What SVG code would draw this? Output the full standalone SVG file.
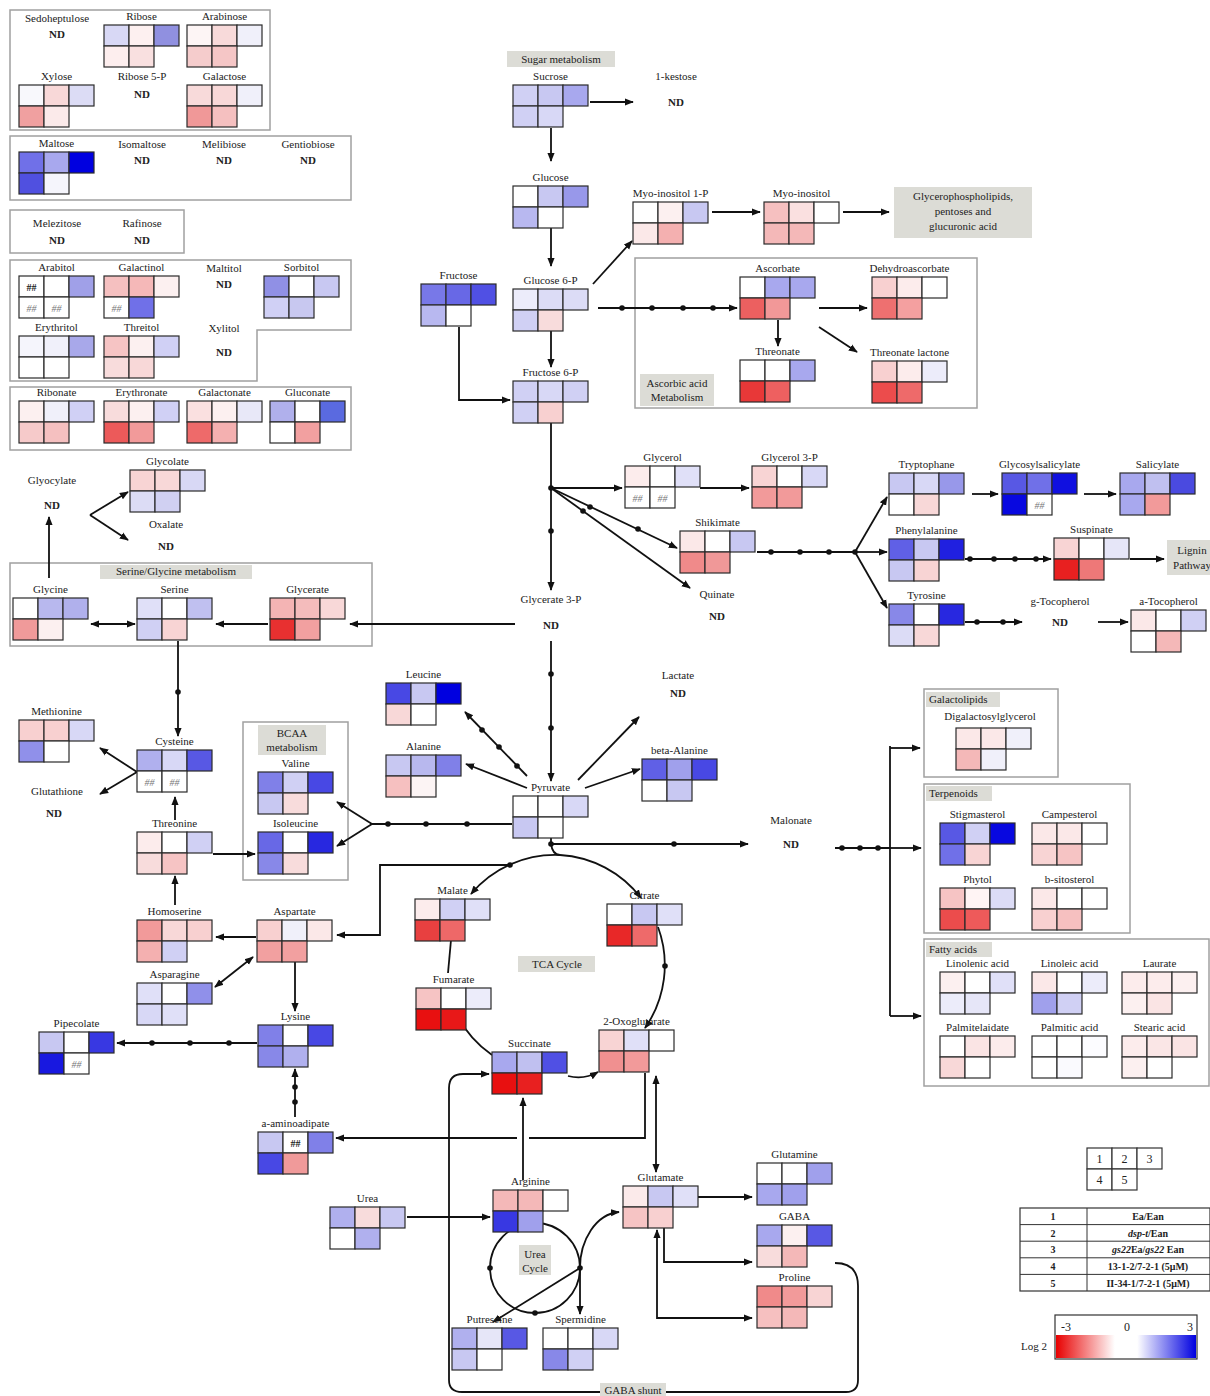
<svg xmlns="http://www.w3.org/2000/svg" width="1210" height="1396" viewBox="0 0 1210 1396">
<defs>
<marker id="a" viewBox="0 0 10 10" refX="9" refY="5" markerWidth="9" markerHeight="9" markerUnits="userSpaceOnUse" orient="auto-start-reverse"><path d="M0,1L10,5L0,9z" fill="#111"/></marker>
<linearGradient id="cb" x1="0" x2="1" y1="0" y2="0"><stop offset="0" stop-color="#e80000"/><stop offset="0.42" stop-color="#ffffff"/><stop offset="0.58" stop-color="#ffffff"/><stop offset="1" stop-color="#0000e0"/></linearGradient>
</defs>
<style>
text{font-family:'Liberation Serif',serif;font-size:11px;fill:#222;text-anchor:middle}
.n rect{width:25px;height:21px;stroke:#2a2a2a;stroke-width:1.2}
.nd{font-weight:bold}
.h{font-style:italic;fill:#777;font-size:10px}
.hb{font-weight:bold;font-size:10px}
.box{fill:none;stroke:#a0a0a0;stroke-width:1.5}
.lab{fill:#dcdcd6}
.c path{fill:none;stroke:#111;stroke-width:1.8}
.ar{marker-end:url(#a)}
.ab{marker-start:url(#a);marker-end:url(#a)}
.c circle{fill:#111}
.lt{text-anchor:start}
.lg rect{fill:#fff;stroke:#333;stroke-width:1.2}
.lg text{font-weight:bold;font-size:10px}
.lg .num{font-weight:normal;font-size:12px}
</style>
<rect width="1210" height="1396" fill="#fff"/>

<g id="boxes">
<rect class="box" x="10" y="10" width="260" height="120"/>
<rect class="box" x="10" y="136" width="341" height="64"/>
<rect class="box" x="10" y="210" width="174" height="43"/>
<path class="box" d="M10,260H351V330H257V381H10Z"/>
<rect class="box" x="10" y="387" width="341" height="63"/>
<rect class="box" x="635" y="258" width="342" height="150"/>
<rect class="box" x="10" y="563" width="362" height="83"/>
<rect class="box" x="243" y="722" width="105" height="158"/>
<rect class="box" x="924" y="689" width="134" height="88"/>
<rect class="box" x="924" y="784" width="206" height="149"/>
<rect class="box" x="924" y="939" width="285" height="147"/>
</g>

<g id="labels">
<rect class="lab" x="507" y="51" width="108" height="16"/><text x="561" y="63">Sugar metabolism</text>
<rect class="lab" x="640" y="374" width="74" height="32"/><text x="677" y="387">Ascorbic acid</text><text x="677" y="401">Metabolism</text>
<rect class="lab" x="894" y="187" width="138" height="51"/><text x="963" y="200">Glycerophospholipids,</text><text x="963" y="215">pentoses and</text><text x="963" y="230">glucuronic acid</text>
<rect class="lab" x="100" y="565" width="152" height="14"/><text x="176" y="575">Serine/Glycine metabolism</text>
<rect class="lab" x="258" y="725" width="68" height="30"/><text x="292" y="737">BCAA</text><text x="292" y="751">metabolism</text>
<rect class="lab" x="518" y="956" width="77" height="16"/><text x="557" y="968">TCA Cycle</text>
<rect class="lab" x="519" y="1245" width="32" height="30"/><text x="535" y="1258">Urea</text><text x="535" y="1272">Cycle</text>
<rect class="lab" x="1167" y="540" width="43" height="35"/><text x="1192" y="554">Lignin</text><text x="1192" y="569">Pathway</text>
<rect class="lab" x="926" y="692" width="74" height="15"/><text class="lt" x="929" y="703">Galactolipids</text>
<rect class="lab" x="926" y="786" width="66" height="15"/><text class="lt" x="929" y="797">Terpenoids</text>
<rect class="lab" x="926" y="942" width="66" height="15"/><text class="lt" x="929" y="953">Fatty acids</text>
</g>

<g id="connectors" class="c">
<path class="ar" d="M590,102H633"/>
<path class="ar" d="M551,128V161"/>
<path class="ar" d="M551,228V266"/>
<path class="ar" d="M593,284L632,241"/>
<path class="ar" d="M712,212H760"/>
<path class="ar" d="M843,212H889"/>
<path class="ar" d="M459,327V400H510"/>
<path class="ar" d="M551,331V367"/>
<path class="ar" d="M598,308H737"/>
<circle cx="622" cy="308" r="2.8"/><circle cx="652" cy="308" r="2.8"/><circle cx="683" cy="308" r="2.8"/><circle cx="713" cy="308" r="2.8"/>
<path class="ar" d="M778,320V346"/>
<path class="ar" d="M819,308H867"/>
<path class="ar" d="M819,327L857,352"/>
<path class="ar" d="M551,423V590"/>
<circle cx="551" cy="488" r="2.8"/><circle cx="551" cy="531" r="2.8"/>
<path class="ar" d="M551,488H622"/>
<path class="ar" d="M700,488H749"/>
<path class="ar" d="M551,488L677,548"/>
<circle cx="590" cy="507" r="2.8"/><circle cx="638" cy="529" r="2.8"/>
<path class="ar" d="M551,488L690,588"/>
<circle cx="583" cy="511" r="2.8"/>
<path d="M757,552H855"/>
<circle cx="771" cy="552" r="2.8"/><circle cx="800" cy="552" r="2.8"/><circle cx="829" cy="552" r="2.8"/><circle cx="855" cy="552" r="2.8"/>
<path class="ar" d="M855,552L887,497"/>
<path class="ar" d="M855,552H887"/>
<path class="ar" d="M855,552L887,608"/>
<path class="ar" d="M972,494H998"/>
<path class="ar" d="M1084,494H1116"/>
<path class="ar" d="M965,559H1051"/>
<circle cx="970" cy="559" r="2.8"/><circle cx="994" cy="559" r="2.8"/><circle cx="1015" cy="559" r="2.8"/><circle cx="1036" cy="559" r="2.8"/>
<path class="ar" d="M1130,559H1164"/>
<path class="ar" d="M965,622H1022"/>
<circle cx="977" cy="622" r="2.8"/><circle cx="1003" cy="622" r="2.8"/>
<path class="ar" d="M1098,622H1128"/>
<path class="ar" d="M515,624H350"/>
<path class="ar" d="M268,624H216"/>
<path class="ab" d="M135,624H91"/>
<path class="ar" d="M49,578V517"/>
<path class="ar" d="M90,515L128,492"/>
<path class="ar" d="M90,515L128,540"/>
<path class="ar" d="M178,641V736"/>
<circle cx="178" cy="692" r="2.8"/>
<path class="ar" d="M551,641V781"/>
<circle cx="551" cy="674" r="2.8"/><circle cx="551" cy="728" r="2.8"/>
<path class="ar" d="M527,776L465,712"/>
<circle cx="517" cy="766" r="2.8"/><circle cx="499" cy="747" r="2.8"/><circle cx="482" cy="730" r="2.8"/>
<path class="ar" d="M527,788L466,764"/>
<path class="ar" d="M578,780L639,717"/>
<path class="ar" d="M585,788L640,769"/>
<path d="M512,824H372"/>
<circle cx="388" cy="824" r="2.8"/><circle cx="426" cy="824" r="2.8"/><circle cx="467" cy="824" r="2.8"/>
<path class="ar" d="M372,824L337,802"/>
<path class="ar" d="M372,824L337,846"/>
<path class="ar" d="M551,838V844H748"/>
<circle cx="551" cy="844" r="2.8"/><circle cx="674" cy="844" r="2.8"/>
<path d="M551,844C552,851 555,855 560,855"/>
<path class="ar" d="M560,855A110,110 0 0 0 471,894"/>
<circle cx="510" cy="865" r="2.8"/>
<path class="ar" d="M510,865H380V935H337"/>
<path class="ar" d="M560,855A110,110 0 0 1 641,898"/>
<path class="ar" d="M658,927A110,110 0 0 1 645,1028"/>
<circle cx="665" cy="966" r="2.8"/>
<path d="M451,940L448,973"/>
<path d="M455,1011A110,110 0 0 0 492,1055"/>
<path class="ar" d="M568,1076Q584,1080 598,1072"/>
<path class="ar" d="M256,937H216"/>
<path class="ar" d="M175,905V876"/>
<path class="ar" d="M175,820V797"/>
<path class="ar" d="M213,854H255"/>
<path class="ar" d="M137,772L100,748"/>
<path class="ar" d="M137,772L100,794"/>
<path class="ab" d="M215,987L253,957"/>
<path class="ar" d="M295,962V1011"/>
<path class="ar" d="M257,1043H117"/>
<circle cx="152" cy="1043" r="2.8"/><circle cx="190" cy="1043" r="2.8"/><circle cx="229" cy="1043" r="2.8"/>
<path class="ar" d="M295,1117V1069"/>
<circle cx="295" cy="1087" r="2.8"/><circle cx="295" cy="1102" r="2.8"/>
<path d="M645,1073V1138H529"/>
<path class="ar" d="M517,1138H336"/>
<path class="ar" d="M523,1180V1098"/>
<path class="ab" d="M656,1076V1172"/>
<path class="ar" d="M407,1217H490"/>
<path class="ar" d="M698,1197H752"/>
<path class="ar" d="M664,1228V1262H752"/>
<path class="ab" d="M657,1230V1318H752"/>
<path class="ar" d="M835,1263Q858,1263 858,1286V1380Q858,1392 846,1392H462Q449,1392 449,1380V1088Q449,1074 463,1074H489"/>
<path d="M490,1268a45,45 0 1 0 90,0a45,45 0 1 0 -90,0"/>
<circle cx="490" cy="1268" r="2.8"/><circle cx="535" cy="1313" r="2.8"/><circle cx="580" cy="1268" r="2.8"/>
<path class="ar" d="M580,1268C580,1240 596,1214 619,1212"/>
<path class="ar" d="M580,1268V1314"/>
<path class="ar" d="M580,1268L493,1322"/>
<path d="M835,848H890"/>
<circle cx="842" cy="848" r="2.8"/><circle cx="860" cy="848" r="2.8"/><circle cx="878" cy="848" r="2.8"/>
<path d="M890,746V1016"/>
<path class="ar" d="M890,748H920"/>
<path class="ar" d="M890,848H921"/>
<path class="ar" d="M890,1016H921"/>
</g>

<g id="gaba-shunt-label">
<rect class="lab" x="600" y="1383" width="66" height="13"/><text x="633" y="1394">GABA shunt</text>
</g>

<g id="nd-nodes">
<g id="n-sedoheptulose"><text x="57" y="22">Sedoheptulose</text><text class="nd" x="57" y="38">ND</text></g>
<g id="n-ribose5p"><text x="142" y="80">Ribose 5-P</text><text class="nd" x="142" y="98">ND</text></g>
<g id="n-isomaltose"><text x="142" y="148">Isomaltose</text><text class="nd" x="142" y="164">ND</text></g>
<g id="n-melibiose"><text x="224" y="148">Melibiose</text><text class="nd" x="224" y="164">ND</text></g>
<g id="n-gentiobiose"><text x="308" y="148">Gentiobiose</text><text class="nd" x="308" y="164">ND</text></g>
<g id="n-melezitose"><text x="57" y="227">Melezitose</text><text class="nd" x="57" y="244">ND</text></g>
<g id="n-rafinose"><text x="142" y="227">Rafinose</text><text class="nd" x="142" y="244">ND</text></g>
<g id="n-maltitol"><text x="224" y="272">Maltitol</text><text class="nd" x="224" y="288">ND</text></g>
<g id="n-xylitol"><text x="224" y="332">Xylitol</text><text class="nd" x="224" y="356">ND</text></g>
<g id="n-kestose"><text x="676" y="80">1-kestose</text><text class="nd" x="676" y="106">ND</text></g>
<g id="n-glycerate3p"><text x="551" y="603">Glycerate 3-P</text><text class="nd" x="551" y="629">ND</text></g>
<g id="n-quinate"><text x="717" y="598">Quinate</text><text class="nd" x="717" y="620">ND</text></g>
<g id="n-gtocopherol"><text x="1060" y="605">g-Tocopherol</text><text class="nd" x="1060" y="626">ND</text></g>
<g id="n-lactate"><text x="678" y="679">Lactate</text><text class="nd" x="678" y="697">ND</text></g>
<g id="n-malonate"><text x="791" y="824">Malonate</text><text class="nd" x="791" y="848">ND</text></g>
<g id="n-glyocylate"><text x="52" y="484">Glyocylate</text><text class="nd" x="52" y="509">ND</text></g>
<g id="n-oxalate"><text x="166" y="528">Oxalate</text><text class="nd" x="166" y="550">ND</text></g>
<g id="n-glutathione"><text x="57" y="795">Glutathione</text><text class="nd" x="54" y="817">ND</text></g>
</g>

<g id="nodes">
<g id="n-ribose" class="n" transform="translate(104,25)"><text x="37.5" y="-5">Ribose</text><rect x="0" y="0" fill="#d8d8f5"/><rect x="25" y="0" fill="#fdf0f0"/><rect x="50" y="0" fill="#9090e0"/><rect x="0" y="21" fill="#fdeeee"/><rect x="25" y="21" fill="#f9e0e0"/></g>
<g id="n-arabinose" class="n" transform="translate(187,25)"><text x="37.5" y="-5">Arabinose</text><rect x="0" y="0" fill="#fdf5f5"/><rect x="25" y="0" fill="#f8dada"/><rect x="50" y="0" fill="#f0f0fa"/><rect x="0" y="21" fill="#f5cccc"/><rect x="25" y="21" fill="#f5c6c6"/></g>
<g id="n-xylose" class="n" transform="translate(19,85)"><text x="37.5" y="-5">Xylose</text><rect x="0" y="0" fill="#f8f8fc"/><rect x="25" y="0" fill="#f8d8d8"/><rect x="50" y="0" fill="#dcdcf5"/><rect x="0" y="21" fill="#f0a0a0"/><rect x="25" y="21" fill="#fbeaea"/></g>
<g id="n-galactose" class="n" transform="translate(187,85)"><text x="37.5" y="-5">Galactose</text><rect x="0" y="0" fill="#f8dada"/><rect x="25" y="0" fill="#f8d8d8"/><rect x="50" y="0" fill="#f0f0fa"/><rect x="0" y="21" fill="#f09898"/><rect x="25" y="21" fill="#f5c0c0"/></g>
<g id="n-maltose" class="n" transform="translate(19,152)"><text x="37.5" y="-5">Maltose</text><rect x="0" y="0" fill="#7070e8"/><rect x="25" y="0" fill="#a8a8ee"/><rect x="50" y="0" fill="#0000e0"/><rect x="0" y="21" fill="#5050e0"/><rect x="25" y="21" fill="#f5f5fc"/></g>
<g id="n-arabitol" class="n" transform="translate(19,276)"><text x="37.5" y="-5">Arabitol</text><rect x="0" y="0" fill="#ffffff"/><rect x="25" y="0" fill="#ffffff"/><rect x="50" y="0" fill="#a0a0e8"/><rect x="0" y="21" fill="#ffffff"/><rect x="25" y="21" fill="#ffffff"/><text class="hb" x="12.5" y="15">##</text><text class="h" x="12.5" y="36">##</text><text class="h" x="37.5" y="36">##</text></g>
<g id="n-galactinol" class="n" transform="translate(104,276)"><text x="37.5" y="-5">Galactinol</text><rect x="0" y="0" fill="#f5c0c0"/><rect x="25" y="0" fill="#f5b8b8"/><rect x="50" y="0" fill="#fcf0f0"/><rect x="0" y="21" fill="#ffffff"/><rect x="25" y="21" fill="#7070e8"/><text class="h" x="12.5" y="36">##</text></g>
<g id="n-sorbitol" class="n" transform="translate(264,276)"><text x="37.5" y="-5">Sorbitol</text><rect x="0" y="0" fill="#9090e5"/><rect x="25" y="0" fill="#ffffff"/><rect x="50" y="0" fill="#c8c8f2"/><rect x="0" y="21" fill="#d0d0f5"/><rect x="25" y="21" fill="#c8c8f0"/></g>
<g id="n-erythritol" class="n" transform="translate(19,336)"><text x="37.5" y="-5">Erythritol</text><rect x="0" y="0" fill="#f5f5fc"/><rect x="25" y="0" fill="#f0f0fa"/><rect x="50" y="0" fill="#a8a8ea"/><rect x="0" y="21" fill="#ffffff"/><rect x="25" y="21" fill="#ffffff"/></g>
<g id="n-threitol" class="n" transform="translate(104,336)"><text x="37.5" y="-5">Threitol</text><rect x="0" y="0" fill="#f6c4c4"/><rect x="25" y="0" fill="#fcf0f0"/><rect x="50" y="0" fill="#d0d0f5"/><rect x="0" y="21" fill="#f8dcdc"/><rect x="25" y="21" fill="#f8d8d8"/></g>
<g id="n-ribonate" class="n" transform="translate(19,401)"><text x="37.5" y="-5">Ribonate</text><rect x="0" y="0" fill="#fcf0f0"/><rect x="25" y="0" fill="#f0f0fa"/><rect x="50" y="0" fill="#d0d0f5"/><rect x="0" y="21" fill="#f6caca"/><rect x="25" y="21" fill="#f5c0c0"/></g>
<g id="n-erythronate" class="n" transform="translate(104,401)"><text x="37.5" y="-5">Erythronate</text><rect x="0" y="0" fill="#f8dcdc"/><rect x="25" y="0" fill="#fcf0f0"/><rect x="50" y="0" fill="#d0d0f5"/><rect x="0" y="21" fill="#ec5a5a"/><rect x="25" y="21" fill="#f29a9a"/></g>
<g id="n-galactonate" class="n" transform="translate(187,401)"><text x="37.5" y="-5">Galactonate</text><rect x="0" y="0" fill="#fae0e0"/><rect x="25" y="0" fill="#fcf0f0"/><rect x="50" y="0" fill="#e8e8f8"/><rect x="0" y="21" fill="#ee6a6a"/><rect x="25" y="21" fill="#f4b0b0"/></g>
<g id="n-gluconate" class="n" transform="translate(270,401)"><text x="37.5" y="-5">Gluconate</text><rect x="0" y="0" fill="#b0b0ec"/><rect x="25" y="0" fill="#ffffff"/><rect x="50" y="0" fill="#5a6ae0"/><rect x="0" y="21" fill="#ffffff"/><rect x="25" y="21" fill="#f2a0a0"/></g>

<g id="n-sucrose" class="n" transform="translate(513,85)"><text x="37.5" y="-5">Sucrose</text><rect x="0" y="0" fill="#d0d0f4"/><rect x="25" y="0" fill="#c8c8f2"/><rect x="50" y="0" fill="#a8a8ee"/><rect x="0" y="21" fill="#d0d0f4"/><rect x="25" y="21" fill="#d8d8f6"/></g>
<g id="n-glucose" class="n" transform="translate(513,186)"><text x="37.5" y="-5">Glucose</text><rect x="0" y="0" fill="#ffffff"/><rect x="25" y="0" fill="#c8c8f2"/><rect x="50" y="0" fill="#9898ea"/><rect x="0" y="21" fill="#b8b8f0"/><rect x="25" y="21" fill="#ffffff"/></g>
<g id="n-g6p" class="n" transform="translate(513,289)"><text x="37.5" y="-5">Glucose 6-P</text><rect x="0" y="0" fill="#ececfa"/><rect x="25" y="0" fill="#dcdcf6"/><rect x="50" y="0" fill="#dcdcf6"/><rect x="0" y="21" fill="#d0d0f4"/><rect x="25" y="21" fill="#f8dcdc"/></g>
<g id="n-fructose" class="n" transform="translate(421,284)"><text x="37.5" y="-5">Fructose</text><rect x="0" y="0" fill="#7878e8"/><rect x="25" y="0" fill="#6868e6"/><rect x="50" y="0" fill="#5050e4"/><rect x="0" y="21" fill="#b8b8f0"/><rect x="25" y="21" fill="#ffffff"/></g>
<g id="n-f6p" class="n" transform="translate(513,381)"><text x="37.5" y="-5">Fructose 6-P</text><rect x="0" y="0" fill="#d0d0f4"/><rect x="25" y="0" fill="#d8d8f6"/><rect x="50" y="0" fill="#d0d0f4"/><rect x="0" y="21" fill="#d0d0f4"/><rect x="25" y="21" fill="#f8d0d0"/></g>
<g id="n-myo1p" class="n" transform="translate(633,202)"><text x="37.5" y="-5">Myo-inositol 1-P</text><rect x="0" y="0" fill="#ffffff"/><rect x="25" y="0" fill="#fcf0f0"/><rect x="50" y="0" fill="#c8c8f2"/><rect x="0" y="21" fill="#fbe8e8"/><rect x="25" y="21" fill="#f4b0b0"/></g>
<g id="n-myo" class="n" transform="translate(764,202)"><text x="37.5" y="-5">Myo-inositol</text><rect x="0" y="0" fill="#f6c0c0"/><rect x="25" y="0" fill="#fae0e0"/><rect x="50" y="0" fill="#ffffff"/><rect x="0" y="21" fill="#f4b8b8"/><rect x="25" y="21" fill="#f4b8b8"/></g>
<g id="n-ascorbate" class="n" transform="translate(740,277)"><text x="37.5" y="-5">Ascorbate</text><rect x="0" y="0" fill="#ffffff"/><rect x="25" y="0" fill="#a8a8ee"/><rect x="50" y="0" fill="#a8a8ee"/><rect x="0" y="21" fill="#ec6060"/><rect x="25" y="21" fill="#f29898"/></g>
<g id="n-threonate" class="n" transform="translate(740,360)"><text x="37.5" y="-5">Threonate</text><rect x="0" y="0" fill="#ffffff"/><rect x="25" y="0" fill="#ffffff"/><rect x="50" y="0" fill="#a8a8ee"/><rect x="0" y="21" fill="#e83838"/><rect x="25" y="21" fill="#ee6060"/></g>
<g id="n-dehydroascorbate" class="n" transform="translate(872,277)"><text x="37.5" y="-5">Dehydroascorbate</text><rect x="0" y="0" fill="#f8d0d0"/><rect x="25" y="0" fill="#fcecec"/><rect x="50" y="0" fill="#ffffff"/><rect x="0" y="21" fill="#ee7070"/><rect x="25" y="21" fill="#f4a0a0"/></g>
<g id="n-threonatelactone" class="n" transform="translate(872,361)"><text x="37.5" y="-5">Threonate lactone</text><rect x="0" y="0" fill="#f8d0d0"/><rect x="25" y="0" fill="#fcecec"/><rect x="50" y="0" fill="#ececfa"/><rect x="0" y="21" fill="#ec4c4c"/><rect x="25" y="21" fill="#ee6a6a"/></g>
<g id="n-glycerol" class="n" transform="translate(625,466)"><text x="37.5" y="-5">Glycerol</text><rect x="0" y="0" fill="#fcecec"/><rect x="25" y="0" fill="#ffffff"/><rect x="50" y="0" fill="#e0e0f8"/><rect x="0" y="21" fill="#ffffff"/><rect x="25" y="21" fill="#ffffff"/><text class="h" x="12.5" y="36">##</text><text class="h" x="37.5" y="36">##</text></g>
<g id="n-glycerol3p" class="n" transform="translate(752,466)"><text x="37.5" y="-5">Glycerol 3-P</text><rect x="0" y="0" fill="#f8d4d4"/><rect x="25" y="0" fill="#ffffff"/><rect x="50" y="0" fill="#d8d8f6"/><rect x="0" y="21" fill="#f29a9a"/><rect x="25" y="21" fill="#f29a9a"/></g>
<g id="n-shikimate" class="n" transform="translate(680,531)"><text x="37.5" y="-5">Shikimate</text><rect x="0" y="0" fill="#fbe8e8"/><rect x="25" y="0" fill="#ffffff"/><rect x="50" y="0" fill="#c8c8f2"/><rect x="0" y="21" fill="#f08a8a"/><rect x="25" y="21" fill="#f09898"/></g>
<g id="n-tryptophane" class="n" transform="translate(889,473)"><text x="37.5" y="-5">Tryptophane</text><rect x="0" y="0" fill="#c8c8f2"/><rect x="25" y="0" fill="#d8d8f6"/><rect x="50" y="0" fill="#9898ea"/><rect x="0" y="21" fill="#ffffff"/><rect x="25" y="21" fill="#f8d8d8"/></g>
<g id="n-glycosylsalicylate" class="n" transform="translate(1002,473)"><text x="37.5" y="-5">Glycosylsalicylate</text><rect x="0" y="0" fill="#5858e4"/><rect x="25" y="0" fill="#7070e8"/><rect x="50" y="0" fill="#1010e0"/><rect x="0" y="21" fill="#0808e0"/><rect x="25" y="21" fill="#ffffff"/><text class="h" x="37.5" y="36">##</text></g>
<g id="n-salicylate" class="n" transform="translate(1120,473)"><text x="37.5" y="-5">Salicylate</text><rect x="0" y="0" fill="#a8a8ee"/><rect x="25" y="0" fill="#c0c0f0"/><rect x="50" y="0" fill="#4a4ae0"/><rect x="0" y="21" fill="#a8a8ee"/><rect x="25" y="21" fill="#f29a9a"/></g>
<g id="n-phenylalanine" class="n" transform="translate(889,539)"><text x="37.5" y="-5">Phenylalanine</text><rect x="0" y="0" fill="#6060e6"/><rect x="25" y="0" fill="#c8c8f2"/><rect x="50" y="0" fill="#2020e0"/><rect x="0" y="21" fill="#c8c8f2"/><rect x="25" y="21" fill="#f8d4d4"/></g>
<g id="n-suspinate" class="n" transform="translate(1054,538)"><text x="37.5" y="-5">Suspinate</text><rect x="0" y="0" fill="#f8d4d4"/><rect x="25" y="0" fill="#ffffff"/><rect x="50" y="0" fill="#e6e6f8"/><rect x="0" y="21" fill="#e82020"/><rect x="25" y="21" fill="#ee7878"/></g>
<g id="n-tyrosine" class="n" transform="translate(889,604)"><text x="37.5" y="-5">Tyrosine</text><rect x="0" y="0" fill="#8888e8"/><rect x="25" y="0" fill="#ffffff"/><rect x="50" y="0" fill="#2828e0"/><rect x="0" y="21" fill="#dcdcf6"/><rect x="25" y="21" fill="#f8d8d8"/></g>
<g id="n-atocopherol" class="n" transform="translate(1131,610)"><text x="37.5" y="-5">a-Tocopherol</text><rect x="0" y="0" fill="#fbe8e8"/><rect x="25" y="0" fill="#ffffff"/><rect x="50" y="0" fill="#d0d0f4"/><rect x="0" y="21" fill="#ffffff"/><rect x="25" y="21" fill="#f4b8b8"/></g>

<g id="n-glycolate" class="n" transform="translate(130,470)"><text x="37.5" y="-5">Glycolate</text><rect x="0" y="0" fill="#f8d4d4"/><rect x="25" y="0" fill="#f8d8d8"/><rect x="50" y="0" fill="#d8d8f5"/><rect x="0" y="21" fill="#dcdcf5"/><rect x="25" y="21" fill="#d0d0f2"/></g>
<g id="n-glycine" class="n" transform="translate(13,598)"><text x="37.5" y="-5">Glycine</text><rect x="0" y="0" fill="#ffffff"/><rect x="25" y="0" fill="#b8b8ee"/><rect x="50" y="0" fill="#b0b0ec"/><rect x="0" y="21" fill="#f09a9a"/><rect x="25" y="21" fill="#fcf0f0"/></g>
<g id="n-serine" class="n" transform="translate(137,598)"><text x="37.5" y="-5">Serine</text><rect x="0" y="0" fill="#e0e0f8"/><rect x="25" y="0" fill="#ffffff"/><rect x="50" y="0" fill="#c0c0f0"/><rect x="0" y="21" fill="#d0d0f4"/><rect x="25" y="21" fill="#f8d4d4"/></g>
<g id="n-glycerate" class="n" transform="translate(270,598)"><text x="37.5" y="-5">Glycerate</text><rect x="0" y="0" fill="#f4b4b4"/><rect x="25" y="0" fill="#f4bcbc"/><rect x="50" y="0" fill="#f8d8d8"/><rect x="0" y="21" fill="#e83030"/><rect x="25" y="21" fill="#f2a0a0"/></g>
<g id="n-leucine" class="n" transform="translate(386,683)"><text x="37.5" y="-5">Leucine</text><rect x="0" y="0" fill="#4848e4"/><rect x="25" y="0" fill="#c8c8f2"/><rect x="50" y="0" fill="#0000e0"/><rect x="0" y="21" fill="#f8d8d8"/><rect x="25" y="21" fill="#ffffff"/></g>
<g id="n-alanine" class="n" transform="translate(386,755)"><text x="37.5" y="-5">Alanine</text><rect x="0" y="0" fill="#c8c8f2"/><rect x="25" y="0" fill="#b8b8ee"/><rect x="50" y="0" fill="#8080e8"/><rect x="0" y="21" fill="#f6c0c0"/><rect x="25" y="21" fill="#fcf4f4"/></g>
<g id="n-betaalanine" class="n" transform="translate(642,759)"><text x="37.5" y="-5">beta-Alanine</text><rect x="0" y="0" fill="#6060e6"/><rect x="25" y="0" fill="#a0a0ec"/><rect x="50" y="0" fill="#4848e4"/><rect x="0" y="21" fill="#ffffff"/><rect x="25" y="21" fill="#c8c8f2"/></g>
<g id="n-pyruvate" class="n" transform="translate(513,796)"><text x="37.5" y="-5">Pyruvate</text><rect x="0" y="0" fill="#ffffff"/><rect x="25" y="0" fill="#ffffff"/><rect x="50" y="0" fill="#d8d8f6"/><rect x="0" y="21" fill="#c8c8f2"/><rect x="25" y="21" fill="#ffffff"/></g>
<g id="n-methionine" class="n" transform="translate(19,720)"><text x="37.5" y="-5">Methionine</text><rect x="0" y="0" fill="#f8d0d0"/><rect x="25" y="0" fill="#f8d0d0"/><rect x="50" y="0" fill="#d8d8f6"/><rect x="0" y="21" fill="#9090ea"/><rect x="25" y="21" fill="#ffffff"/></g>
<g id="n-cysteine" class="n" transform="translate(137,750)"><text x="37.5" y="-5">Cysteine</text><rect x="0" y="0" fill="#b0b0ee"/><rect x="25" y="0" fill="#d8d8f6"/><rect x="50" y="0" fill="#5858e4"/><rect x="0" y="21" fill="#ffffff"/><rect x="25" y="21" fill="#ffffff"/><text class="h" x="12.5" y="36">##</text><text class="h" x="37.5" y="36">##</text></g>
<g id="n-threonine" class="n" transform="translate(137,832)"><text x="37.5" y="-5">Threonine</text><rect x="0" y="0" fill="#fcecec"/><rect x="25" y="0" fill="#ffffff"/><rect x="50" y="0" fill="#d0d0f4"/><rect x="0" y="21" fill="#f8dcdc"/><rect x="25" y="21" fill="#f6c4c4"/></g>
<g id="n-valine" class="n" transform="translate(258,772)"><text x="37.5" y="-5">Valine</text><rect x="0" y="0" fill="#8080e8"/><rect x="25" y="0" fill="#d0d0f4"/><rect x="50" y="0" fill="#4848e4"/><rect x="0" y="21" fill="#c8c8f2"/><rect x="25" y="21" fill="#f8dcdc"/></g>
<g id="n-isoleucine" class="n" transform="translate(258,832)"><text x="37.5" y="-5">Isoleucine</text><rect x="0" y="0" fill="#6868e6"/><rect x="25" y="0" fill="#ffffff"/><rect x="50" y="0" fill="#2828e0"/><rect x="0" y="21" fill="#8888e8"/><rect x="25" y="21" fill="#f8dcdc"/></g>
<g id="n-homoserine" class="n" transform="translate(137,920)"><text x="37.5" y="-5">Homoserine</text><rect x="0" y="0" fill="#f29a9a"/><rect x="25" y="0" fill="#f8d8d8"/><rect x="50" y="0" fill="#f8d0d0"/><rect x="0" y="21" fill="#f4b0b0"/><rect x="25" y="21" fill="#d0d0f4"/></g>
<g id="n-aspartate" class="n" transform="translate(257,920)"><text x="37.5" y="-5">Aspartate</text><rect x="0" y="0" fill="#f8d0d0"/><rect x="25" y="0" fill="#f0f0fa"/><rect x="50" y="0" fill="#fbe8e8"/><rect x="0" y="21" fill="#f2a0a0"/><rect x="25" y="21" fill="#f2a0a0"/></g>
<g id="n-asparagine" class="n" transform="translate(137,983)"><text x="37.5" y="-5">Asparagine</text><rect x="0" y="0" fill="#e0e0f8"/><rect x="25" y="0" fill="#ffffff"/><rect x="50" y="0" fill="#9090ea"/><rect x="0" y="21" fill="#d8d8f6"/><rect x="25" y="21" fill="#e0e0f8"/></g>
<g id="n-malate" class="n" transform="translate(415,899)"><text x="37.5" y="-5">Malate</text><rect x="0" y="0" fill="#fcecec"/><rect x="25" y="0" fill="#d0d0f4"/><rect x="50" y="0" fill="#e0e0f8"/><rect x="0" y="21" fill="#e84040"/><rect x="25" y="21" fill="#ee6868"/></g>
<g id="n-citrate" class="n" transform="translate(607,904)"><text x="37.5" y="-5">Citrate</text><rect x="0" y="0" fill="#ffffff"/><rect x="25" y="0" fill="#c8c8f2"/><rect x="50" y="0" fill="#e0e0f8"/><rect x="0" y="21" fill="#e82828"/><rect x="25" y="21" fill="#ee6a6a"/></g>
<g id="n-fumarate" class="n" transform="translate(416,988)"><text x="37.5" y="-5">Fumarate</text><rect x="0" y="0" fill="#f6c4c4"/><rect x="25" y="0" fill="#ffffff"/><rect x="50" y="0" fill="#ececfa"/><rect x="0" y="21" fill="#e81010"/><rect x="25" y="21" fill="#e81818"/></g>
<g id="n-succinate" class="n" transform="translate(492,1052)"><text x="37.5" y="-5">Succinate</text><rect x="0" y="0" fill="#a8a8ee"/><rect x="25" y="0" fill="#c0c0f0"/><rect x="50" y="0" fill="#5050e4"/><rect x="0" y="21" fill="#e81010"/><rect x="25" y="21" fill="#e82020"/></g>
<g id="n-oxoglutarate" class="n" transform="translate(599,1030)"><text x="37.5" y="-5">2-Oxoglutarate</text><rect x="0" y="0" fill="#f8d4d4"/><rect x="25" y="0" fill="#e0e0f8"/><rect x="50" y="0" fill="#ffffff"/><rect x="0" y="21" fill="#f09090"/><rect x="25" y="21" fill="#f29a9a"/></g>
<g id="n-pipecolate" class="n" transform="translate(39,1032)"><text x="37.5" y="-5">Pipecolate</text><rect x="0" y="0" fill="#c8c8f2"/><rect x="25" y="0" fill="#ffffff"/><rect x="50" y="0" fill="#3838e2"/><rect x="0" y="21" fill="#1818e0"/><rect x="25" y="21" fill="#ffffff"/><text class="h" x="37.5" y="36">##</text></g>
<g id="n-lysine" class="n" transform="translate(258,1025)"><text x="37.5" y="-5">Lysine</text><rect x="0" y="0" fill="#8080e8"/><rect x="25" y="0" fill="#ffffff"/><rect x="50" y="0" fill="#4848e4"/><rect x="0" y="21" fill="#8888e8"/><rect x="25" y="21" fill="#b0b0ee"/></g>
<g id="n-aminoadipate" class="n" transform="translate(258,1132)"><text x="37.5" y="-5">a-aminoadipate</text><rect x="0" y="0" fill="#c8c8f2"/><rect x="25" y="0" fill="#ffffff"/><rect x="50" y="0" fill="#8080e8"/><rect x="0" y="21" fill="#4848e4"/><rect x="25" y="21" fill="#f09a9a"/><text class="hb" x="37.5" y="15">##</text></g>
<g id="n-urea" class="n" transform="translate(330,1207)"><text x="37.5" y="-5">Urea</text><rect x="0" y="0" fill="#b0b0ee"/><rect x="25" y="0" fill="#f8dcdc"/><rect x="50" y="0" fill="#c8c8f2"/><rect x="0" y="21" fill="#ffffff"/><rect x="25" y="21" fill="#b0b0ee"/></g>
<g id="n-arginine" class="n" transform="translate(493,1190)"><text x="37.5" y="-5">Arginine</text><rect x="0" y="0" fill="#f4b8b8"/><rect x="25" y="0" fill="#f4b8b8"/><rect x="50" y="0" fill="#ffffff"/><rect x="0" y="21" fill="#3838e2"/><rect x="25" y="21" fill="#a0a0ec"/></g>
<g id="n-glutamate" class="n" transform="translate(623,1186)"><text x="37.5" y="-5">Glutamate</text><rect x="0" y="0" fill="#fbeaea"/><rect x="25" y="0" fill="#c8c8f2"/><rect x="50" y="0" fill="#e0e0f8"/><rect x="0" y="21" fill="#f6c4c4"/><rect x="25" y="21" fill="#f8d0d0"/></g>
<g id="n-glutamine" class="n" transform="translate(757,1163)"><text x="37.5" y="-5">Glutamine</text><rect x="0" y="0" fill="#ffffff"/><rect x="25" y="0" fill="#ffffff"/><rect x="50" y="0" fill="#a0a0ec"/><rect x="0" y="21" fill="#a8a8ee"/><rect x="25" y="21" fill="#a0a0ec"/></g>
<g id="n-gaba" class="n" transform="translate(757,1225)"><text x="37.5" y="-5">GABA</text><rect x="0" y="0" fill="#a8a8ee"/><rect x="25" y="0" fill="#fcf0f0"/><rect x="50" y="0" fill="#5858e4"/><rect x="0" y="21" fill="#f8dcdc"/><rect x="25" y="21" fill="#f4b8b8"/></g>
<g id="n-proline" class="n" transform="translate(757,1286)"><text x="37.5" y="-5">Proline</text><rect x="0" y="0" fill="#f08a8a"/><rect x="25" y="0" fill="#f29a9a"/><rect x="50" y="0" fill="#f8d4d4"/><rect x="0" y="21" fill="#f6c0c0"/><rect x="25" y="21" fill="#f4b8b8"/></g>
<g id="n-putrescine" class="n" transform="translate(452,1328)"><text x="37.5" y="-5">Putrescine</text><rect x="0" y="0" fill="#b0b0ee"/><rect x="25" y="0" fill="#e6e6f8"/><rect x="50" y="0" fill="#5858e4"/><rect x="0" y="21" fill="#c8c8f2"/><rect x="25" y="21" fill="#ffffff"/></g>
<g id="n-spermidine" class="n" transform="translate(543,1328)"><text x="37.5" y="-5">Spermidine</text><rect x="0" y="0" fill="#ffffff"/><rect x="25" y="0" fill="#ffffff"/><rect x="50" y="0" fill="#d8d8f6"/><rect x="0" y="21" fill="#8888e8"/><rect x="25" y="21" fill="#d0d0f4"/></g>

<g id="n-digalactosylglycerol" class="n" transform="translate(956,728)"><text x="34" y="-8">Digalactosylglycerol</text><rect x="0" y="0" fill="#fbe8e8"/><rect x="25" y="0" fill="#fbe8e8"/><rect x="50" y="0" fill="#f0f0fa"/><rect x="0" y="21" fill="#f4b8b8"/><rect x="25" y="21" fill="#f0f0fa"/></g>
<g id="n-stigmasterol" class="n" transform="translate(940,823)"><text x="37.5" y="-5">Stigmasterol</text><rect x="0" y="0" fill="#5858e4"/><rect x="25" y="0" fill="#d0d0f4"/><rect x="50" y="0" fill="#0808e0"/><rect x="0" y="21" fill="#7070e8"/><rect x="25" y="21" fill="#f8d4d4"/></g>
<g id="n-campesterol" class="n" transform="translate(1032,823)"><text x="37.5" y="-5">Campesterol</text><rect x="0" y="0" fill="#fbe8e8"/><rect x="25" y="0" fill="#fbe8e8"/><rect x="50" y="0" fill="#ffffff"/><rect x="0" y="21" fill="#f8d4d4"/><rect x="25" y="21" fill="#f6c4c4"/></g>
<g id="n-phytol" class="n" transform="translate(940,888)"><text x="37.5" y="-5">Phytol</text><rect x="0" y="0" fill="#f6c4c4"/><rect x="25" y="0" fill="#fff4f4"/><rect x="50" y="0" fill="#dcdcf6"/><rect x="0" y="21" fill="#ec4c4c"/><rect x="25" y="21" fill="#ee5a5a"/></g>
<g id="n-bsitosterol" class="n" transform="translate(1032,888)"><text x="37.5" y="-5">b-sitosterol</text><rect x="0" y="0" fill="#fbe8e8"/><rect x="25" y="0" fill="#ffffff"/><rect x="50" y="0" fill="#ffffff"/><rect x="0" y="21" fill="#f8d0d0"/><rect x="25" y="21" fill="#f6c0c0"/></g>
<g id="n-linolenic" class="n" transform="translate(940,972)"><text x="37.5" y="-5">Linolenic acid</text><rect x="0" y="0" fill="#fcf0f0"/><rect x="25" y="0" fill="#ffffff"/><rect x="50" y="0" fill="#e0e0f8"/><rect x="0" y="21" fill="#ececfa"/><rect x="25" y="21" fill="#e6e6f8"/></g>
<g id="n-linoleic" class="n" transform="translate(1032,972)"><text x="37.5" y="-5">Linoleic acid</text><rect x="0" y="0" fill="#fbe8e8"/><rect x="25" y="0" fill="#ffffff"/><rect x="50" y="0" fill="#ececfa"/><rect x="0" y="21" fill="#a0a0ec"/><rect x="25" y="21" fill="#d0d0f4"/></g>
<g id="n-laurate" class="n" transform="translate(1122,972)"><text x="37.5" y="-5">Laurate</text><rect x="0" y="0" fill="#fcecec"/><rect x="25" y="0" fill="#fcecec"/><rect x="50" y="0" fill="#fcf0f0"/><rect x="0" y="21" fill="#fcf0f0"/><rect x="25" y="21" fill="#fae4e4"/></g>
<g id="n-palmitelaidate" class="n" transform="translate(940,1036)"><text x="37.5" y="-5">Palmitelaidate</text><rect x="0" y="0" fill="#ffffff"/><rect x="25" y="0" fill="#fae4e4"/><rect x="50" y="0" fill="#fcecec"/><rect x="0" y="21" fill="#f8d8d8"/><rect x="25" y="21" fill="#ffffff"/></g>
<g id="n-palmitic" class="n" transform="translate(1032,1036)"><text x="37.5" y="-5">Palmitic acid</text><rect x="0" y="0" fill="#ffffff"/><rect x="25" y="0" fill="#ffffff"/><rect x="50" y="0" fill="#fcfcff"/><rect x="0" y="21" fill="#ffffff"/><rect x="25" y="21" fill="#fafafe"/></g>
<g id="n-stearic" class="n" transform="translate(1122,1036)"><text x="37.5" y="-5">Stearic acid</text><rect x="0" y="0" fill="#fcecec"/><rect x="25" y="0" fill="#fae6e6"/><rect x="50" y="0" fill="#fae4e4"/><rect x="0" y="21" fill="#fcf0f0"/><rect x="25" y="21" fill="#ffffff"/></g>
</g>

<g id="legend" class="lg">
<g id="legend-grid">
<rect x="1087" y="1148" width="25" height="21"/><rect x="1112" y="1148" width="25" height="21"/><rect x="1137" y="1148" width="25" height="21"/>
<rect x="1087" y="1169" width="25" height="21"/><rect x="1112" y="1169" width="25" height="21"/>
<text class="num" x="1099.5" y="1163">1</text><text class="num" x="1124.5" y="1163">2</text><text class="num" x="1149.5" y="1163">3</text>
<text class="num" x="1099.5" y="1184">4</text><text class="num" x="1124.5" y="1184">5</text>
</g>
<g id="legend-table">
<rect x="1020" y="1208" width="190" height="83"/>
<path d="M1087,1208V1291M1020,1224.6H1210M1020,1241.2H1210M1020,1257.8H1210M1020,1274.4H1210" stroke="#333" stroke-width="1"/>
<text x="1053" y="1220">1</text><text x="1148" y="1220">Ea/Ean</text>
<text x="1053" y="1237">2</text><text x="1148" y="1237"><tspan font-style="italic">dsp-t</tspan>/Ean</text>
<text x="1053" y="1253">3</text><text x="1148" y="1253"><tspan font-style="italic">gs22</tspan>Ea/<tspan font-style="italic">gs22</tspan> Ean</text>
<text x="1053" y="1270">4</text><text x="1148" y="1270">13-1-2/7-2-1 (5μM)</text>
<text x="1053" y="1287">5</text><text x="1148" y="1287">II-34-1/7-2-1 (5μM)</text>
</g>
<g id="legend-colorbar">
<rect x="1055" y="1315" width="142" height="44"/>
<rect x="1056" y="1335" width="140" height="23" style="fill:url(#cb);stroke:none"/>
<text class="num" x="1066" y="1331">-3</text>
<text class="num" x="1127" y="1331">0</text>
<text class="num" x="1190" y="1331">3</text>
<text x="1034" y="1350" style="font-weight:normal;font-size:11px">Log 2</text>
</g>
</g>
</svg>
